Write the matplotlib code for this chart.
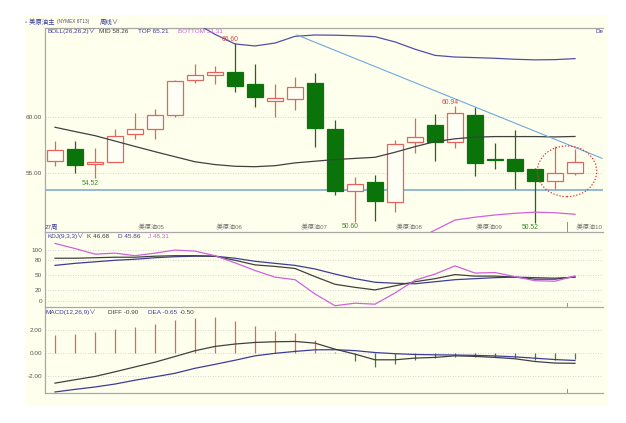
import matplotlib.pyplot as plt
import numpy as np
from matplotlib.patches import Rectangle, Ellipse

plt.rcParams['font.family'] = ['Liberation Sans', 'Noto Sans CJK SC', 'DejaVu Sans']

# weekly candles (NYMEX crude)
opens = [56.10, 57.10, 55.80, 56.00, 58.45, 58.90, 60.18, 63.30, 63.75, 64.02, 62.92, 61.40, 61.60, 63.00,
         58.90, 53.42, 54.23, 52.44, 57.74, 59.26, 57.77, 60.20, 56.20, 56.22, 55.36, 54.31, 54.97]
closes = [57.05, 55.70, 56.00, 58.33, 58.96, 60.15, 63.20, 63.72, 64.05, 62.77, 61.81, 61.67, 62.65, 59.00,
          53.40, 54.02, 52.50, 57.56, 58.19, 57.74, 60.38, 55.86, 56.18, 55.18, 54.29, 54.97, 56.01]
highs = [57.86, 57.86, 57.20, 58.90, 60.38, 60.68, 63.30, 64.73, 64.55, 66.60, 64.73, 62.92, 63.60, 63.96,
         59.73, 54.67, 54.82, 57.95, 59.94, 60.27, 60.94, 60.90, 57.65, 58.84, 55.40, 57.41, 57.12]
lows = [55.65, 54.97, 54.52, 56.00, 58.00, 58.06, 60.03, 63.07, 62.95, 62.26, 60.92, 59.97, 60.63, 57.30,
        53.04, 50.60, 50.71, 51.54, 56.76, 56.07, 57.26, 54.73, 55.33, 53.54, 50.52, 53.54, 54.82]

# BOLL(26,26,2); NaN where the band is off the panel
nan = np.nan
boll_mid = [59.08, 58.70, 58.33, 57.85, 57.37, 56.90, 56.45, 56.00, 55.75, 55.60, 55.56, 55.65, 55.90, 56.05,
            56.20, 56.30, 56.40, 56.85, 57.35, 57.80, 58.05, 58.20, 58.25, 58.25, 58.25, 58.22, 58.26]
boll_top = [nan] * 7 + [68.40, 67.38, 66.52, 66.34, 66.60, 67.20, 67.32, 67.30, 67.25, 67.17, 66.70, 66.05,
                        65.50, 65.35, 65.30, 65.24, 65.15, 65.10, 65.12, 65.21]
boll_bottom = [nan] * 18 + [49.00, 49.90, 50.80, 51.05, 51.25, 51.40, 51.50, 51.45, 51.31]

# KDJ(9,3,3)
kdj_k = [83, 83, 84, 85, 85, 87, 88, 88, 87, 79, 70, 67, 63, 47, 32, 26, 21, 29, 37, 43, 51, 48, 48, 46, 42,
         42, 46.68]
kdj_d = [69, 73, 76, 79, 81, 84, 86, 87, 87, 83, 77, 73, 69, 62, 52, 43, 36, 34, 33, 37, 41, 43, 45, 46, 45,
         44, 45.86]
kdj_j = [112, 102, 91, 93, 88, 93, 99, 97, 88, 74, 59, 46, 41, 13, -10, -5, -7, 15, 40, 52, 68, 54, 55, 47,
         39, 38, 48.31]

# MACD(12,26,9)
macd_diff = [-2.65, -2.35, -2.06, -1.65, -1.22, -0.80, -0.30, 0.21, 0.59, 0.80, 0.94, 1.00, 1.03, 0.88, 0.35,
             -0.09, -0.59, -0.59, -0.44, -0.38, -0.24, -0.29, -0.38, -0.50, -0.74, -0.88, -0.90]
macd_dea = [-3.43, -3.20, -2.99, -2.73, -2.39, -2.09, -1.78, -1.34, -0.99, -0.63, -0.24, -0.02, 0.15, 0.29,
            0.30, 0.22, 0.05, -0.05, -0.12, -0.15, -0.17, -0.20, -0.25, -0.33, -0.45, -0.57, -0.65]
macd_hist = [1.56, 1.71, 1.86, 2.15, 2.33, 2.57, 2.95, 3.10, 3.16, 2.86, 2.36, 1.98, 1.77, 1.18, 0.10, -0.74,
             -1.24, -0.94, -0.59, -0.44, -0.38, -0.35, -0.38, -0.44, -0.59, -0.59, -0.50]

# marked extremes: (week index, value, is_high)
marks = [(9, 66.60, True), (2, 54.52, False), (15, 50.60, False), (20, 60.94, True), (24, 50.52, False)]

# trend line, support level and circled area
trend_x = [12.1, 27.35]
trend_y = [67.32, 56.31]
support = 53.5
circle_center = (25.6, 55.15)

month_pos = [4.1, 8.0, 12.25, 17.0, 21.0, 26.0]
month_labels = [':美原油05', ':美原油06', ':美原油07', ':美原油08', ':美原油09', ':美原油10']

RED = '#E8625C'
GREEN = '#0A730A'
BG = '#FFFFEE'
GRID = '#C8C8C8'
NAVY = '#3C3C9C'
DARK = '#404040'
MAG = '#D060E0'
FS = 4.6

x = np.arange(len(opens))
xlim = (-0.5, 27.4)

fig = plt.figure(figsize=(6.26, 4.23), dpi=100)
fig.patches.append(Rectangle((25 / 626, 1 - 405 / 423), 582 / 626, 390 / 423,
                             transform=fig.transFigure, color=BG, zorder=-10))

ax = fig.add_axes([45 / 626, 1 - 232 / 423, 558 / 626, 204.3 / 423])
ax_kdj = fig.add_axes([45 / 626, 1 - 307 / 423, 558 / 626, 75 / 423])
ax_macd = fig.add_axes([45 / 626, 1 - 393 / 423, 558 / 626, 85 / 423])


def style(a, top=False):
    a.set_facecolor('none')
    a.set_xlim(*xlim)
    a.set_xticks([])
    for s in ['right', 'top']:
        a.spines[s].set_visible(False)
    if top:
        a.spines['top'].set_visible(True)
    for s in ['left', 'bottom', 'top']:
        a.spines[s].set_color('#A8A8A8')
        a.spines[s].set_linewidth(0.9)
    a.tick_params(axis='y', length=0, pad=2, labelsize=FS, labelcolor='#555555')
    # cursor mark
    a.plot([25.6, 25.6], [0, 0.05], transform=a.get_xaxis_transform(), color='#909090', lw=0.7)


# ---- main price panel ----
style(ax, top=True)
ax.set_ylim(49.73, 67.97)
ax.set_yticks([55, 60])
ax.set_yticklabels(['55.00', '60.00'])
for v in [55, 60]:
    ax.axhline(v, color=GRID, ls=(0, (1, 2)), lw=0.6, zorder=0)

for i in x:
    up = closes[i] >= opens[i]
    col = RED if up else GREEN
    ax.vlines(i, lows[i], highs[i], color=col, lw=0.9, zorder=2)
    lo = min(opens[i], closes[i])
    h = max(abs(closes[i] - opens[i]), 0.04)
    ax.add_patch(Rectangle((i - 0.42, lo), 0.84, h, facecolor='#FFFFF6' if up else GREEN,
                           edgecolor=col, lw=0.9, zorder=3))

ax.plot(x, boll_top, color='#5050A8', lw=0.9, zorder=4)
ax.plot(x, boll_mid, color=DARK, lw=0.9, zorder=4)
ax.plot(x, boll_bottom, color=MAG, lw=0.9, zorder=4)
ax.plot(trend_x, trend_y, color='#6FA8DC', lw=0.8, zorder=4, clip_on=False)
ax.plot([-0.5, 27.35], [support, support], color='#92B8DA', lw=1.4, zorder=1)
ax.add_patch(Ellipse(circle_center, 2.97, 4.53, fill=False, edgecolor='#E03030', ls=(0, (1, 1.5)),
                     lw=0.9, zorder=5))

for i, v, high in marks:
    if high:
        ax.text(i - 0.25, v + 0.33, f'{v:.2f}', color='#E04040', fontsize=FS + 0.3, ha='center',
                va='center', zorder=6)
    else:
        ax.text(i - 0.25, v - 0.42, f'{v:.2f}', color='#3A8A2A', fontsize=FS + 0.3, ha='center',
                va='center', zorder=6)

ax.text(-0.5, 0.01, '27周', transform=ax.get_xaxis_transform(), color=NAVY, fontsize=FS,
        ha='left', va='bottom')
for p, lab in zip(month_pos, month_labels):
    ax.text(p, 0.01, lab, transform=ax.get_xaxis_transform(), color='#707070', fontsize=FS - 0.2,
            ha='left', va='bottom')

# ---- KDJ panel ----
style(ax_kdj)
ax_kdj.set_ylim(-12.5, 134.4)
kdj_ticks = [0, 20, 50, 80, 100]
ax_kdj.set_yticks(kdj_ticks)
ax_kdj.set_yticklabels([str(t) for t in kdj_ticks])
for v in kdj_ticks:
    ax_kdj.axhline(v, color=GRID, ls=(0, (1, 2)), lw=0.6, zorder=0)
ax_kdj.plot(x, kdj_d, color=NAVY, lw=0.9)
ax_kdj.plot(x, kdj_k, color=DARK, lw=0.9)
ax_kdj.plot(x, kdj_j, color=MAG, lw=0.9)

# ---- MACD panel ----
style(ax_macd)
ax_macd.set_ylim(-3.52, 3.98)
ax_macd.set_yticks([-2, 0, 2])
ax_macd.set_yticklabels(['-2.00', '0.00', '2.00'])
for v in [-2, 0, 2]:
    ax_macd.axhline(v, color=GRID, ls=(0, (1, 2)), lw=0.6, zorder=0)
hist_cols = [RED if h >= 0 else '#2E8A2E' for h in macd_hist]
ax_macd.vlines(x, 0, macd_hist, colors=hist_cols, lw=0.9)
ax_macd.plot(x, macd_dea, color=NAVY, lw=0.9)
ax_macd.plot(x, macd_diff, color=DARK, lw=0.9)


# ---- header texts ----
def row(y, items, fs=FS):
    for xp, txt, col in items:
        fig.text(xp / 626, 1 - y / 423, txt, color=col, fontsize=fs, ha='left', va='center')


row(22, [(25, '◦ 美原油主', NAVY), (100, '周线∨', NAVY)])
row(22, [(57, '(NYMEX 6T13)', '#505070')], fs=3.4)
row(31.5, [(47, 'BOLL(26,26,2)∨', NAVY), (99, 'MID 58.26', DARK), (138, 'TOP 65.21', NAVY),
           (178, 'BOTTOM 51.31', MAG), (596, 'De', NAVY)])
row(236.5, [(47, 'KDJ(9,3,3)∨', NAVY), (87, 'K 46.68', DARK), (118, 'D 45.86', NAVY),
            (148, 'J 48.31', MAG)])
row(312, [(45, 'MACD(12,26,9)∨', NAVY), (108, 'DIFF -0.90', DARK), (148, 'DEA -0.65', NAVY),
          (180, '-0.50', DARK)])

fig.savefig('out.png', dpi=100)
